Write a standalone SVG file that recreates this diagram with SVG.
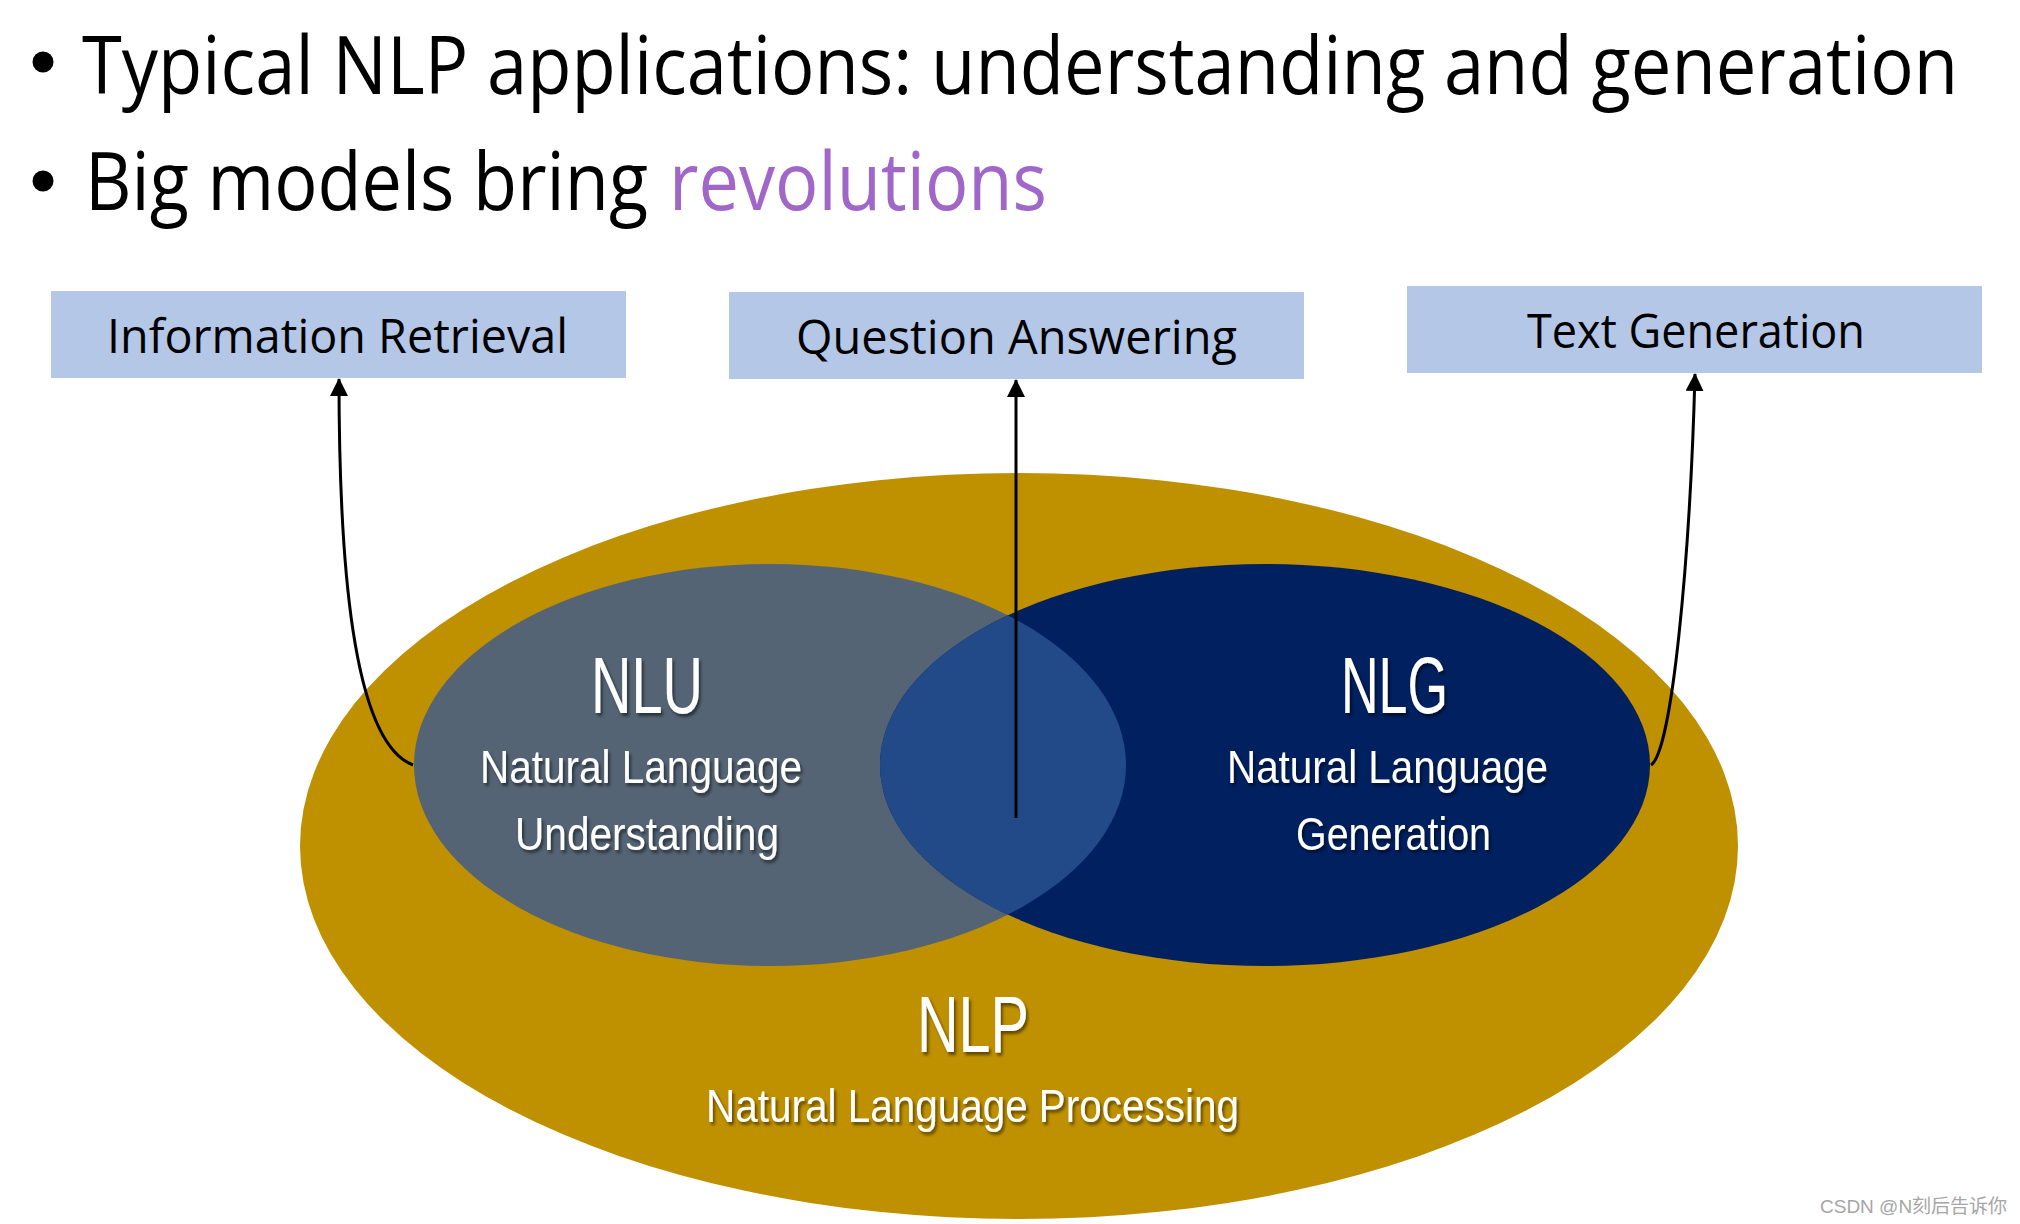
<svg xmlns="http://www.w3.org/2000/svg" width="2020" height="1224" viewBox="0 0 2020 1224">
<style>
.title{font-family:"Open Sans","Liberation Sans",sans-serif;font-size:66px;fill:#000}
.box{fill:#B4C7E7}
.boxtxt{font-family:"Open Sans","Liberation Sans",sans-serif;font-size:48px;fill:#000;text-anchor:start}
.big{font-family:"Liberation Sans","Open Sans",sans-serif;font-size:80px;fill:#fff;filter:url(#sh)}
.sub{font-family:"Liberation Sans","Open Sans",sans-serif;font-size:46px;fill:#fff;filter:url(#sh)}
.conn{fill:none;stroke:#000;stroke-width:3}
</style>
<defs>
<marker id="ah" viewBox="0 0 18 18" refX="17" refY="9" markerWidth="18" markerHeight="18" markerUnits="userSpaceOnUse" orient="auto">
<path d="M0,0 L18,9 L0,18 Z" fill="#000"/>
</marker>
<filter id="sh" x="-10%" y="-20%" width="130%" height="150%">
<feDropShadow dx="2" dy="3" stdDeviation="1.5" flood-color="#000" flood-opacity="0.5"/>
</filter>
<clipPath id="nluclip"><ellipse cx="770" cy="765" rx="356" ry="201"/></clipPath>
</defs>
<rect width="2020" height="1224" fill="#fff"/>

<g id="bullets">
<circle cx="43" cy="62" r="10.5" fill="#000"/>
<text class="title" transform="translate(82,94) scale(1,1.22)" x="0" y="0" textLength="1876" lengthAdjust="spacingAndGlyphs">Typical NLP applications: understanding and generation</text>
<circle cx="43" cy="181" r="10.5" fill="#000"/>
<text class="title" transform="translate(85,210) scale(1,1.22)" x="0" y="0" textLength="563" lengthAdjust="spacingAndGlyphs">Big models bring</text>
<text class="title" transform="translate(669,210) scale(1,1.22)" x="0" y="0" textLength="378" lengthAdjust="spacingAndGlyphs" style="fill:#A066C8">revolutions</text>
</g>

<g id="nlp">
<ellipse cx="1019" cy="846" rx="719" ry="373" fill="#BF9000"/>
<text class="big" x="917" y="1052" textLength="112" lengthAdjust="spacingAndGlyphs">NLP</text>
<text class="sub" x="706" y="1122" textLength="533" lengthAdjust="spacingAndGlyphs">Natural Language Processing</text>
</g>

<g id="nlu">
<ellipse cx="770" cy="765" rx="356" ry="201" fill="#546474"/>
</g>
<g id="nlg">
<ellipse cx="1265" cy="765" rx="385" ry="201" fill="#002060"/>
</g>
<g id="overlap">
<ellipse cx="1265" cy="765" rx="385" ry="201" fill="#234A88" clip-path="url(#nluclip)"/>
</g>
<g id="nlu-text">
<text class="big" x="591" y="713" textLength="112" lengthAdjust="spacingAndGlyphs">NLU</text>
<text class="sub" x="480" y="783" textLength="322" lengthAdjust="spacingAndGlyphs">Natural Language</text>
<text class="sub" x="515" y="850" textLength="264" lengthAdjust="spacingAndGlyphs">Understanding</text>
</g>
<g id="nlg-text">
<text class="big" x="1341" y="713" textLength="107" lengthAdjust="spacingAndGlyphs">NLG</text>
<text class="sub" x="1227" y="783" textLength="321" lengthAdjust="spacingAndGlyphs">Natural Language</text>
<text class="sub" x="1296" y="850" textLength="195" lengthAdjust="spacingAndGlyphs">Generation</text>
</g>

<g id="ir">
<rect class="box" x="51" y="291" width="575" height="87"/>
<text class="boxtxt" x="107" y="353" textLength="461" lengthAdjust="spacingAndGlyphs">Information Retrieval</text>
</g>
<g id="qa">
<rect class="box" x="729" y="292" width="575" height="87"/>
<text class="boxtxt" x="796" y="354" textLength="441" lengthAdjust="spacingAndGlyphs">Question Answering</text>
</g>
<g id="tg">
<rect class="box" x="1407" y="286" width="575" height="87"/>
<text class="boxtxt" x="1527" y="348" textLength="338" lengthAdjust="spacingAndGlyphs">Text Generation</text>
</g>

<g id="connectors">
<path class="conn" d="M413,765 C352,742 339,560 339,379" marker-end="url(#ah)"/>
<path class="conn" d="M1016,818 L1016,380" marker-end="url(#ah)"/>
<path class="conn" d="M1651,765 C1672,752 1690,560 1695,374" marker-end="url(#ah)"/>
</g>

<text x="1820" y="1213" style="font-family:'Liberation Sans','Noto Sans CJK SC',sans-serif;font-size:19px;fill:#A6A6A6">CSDN @N刻后告诉你</text>
</svg>
